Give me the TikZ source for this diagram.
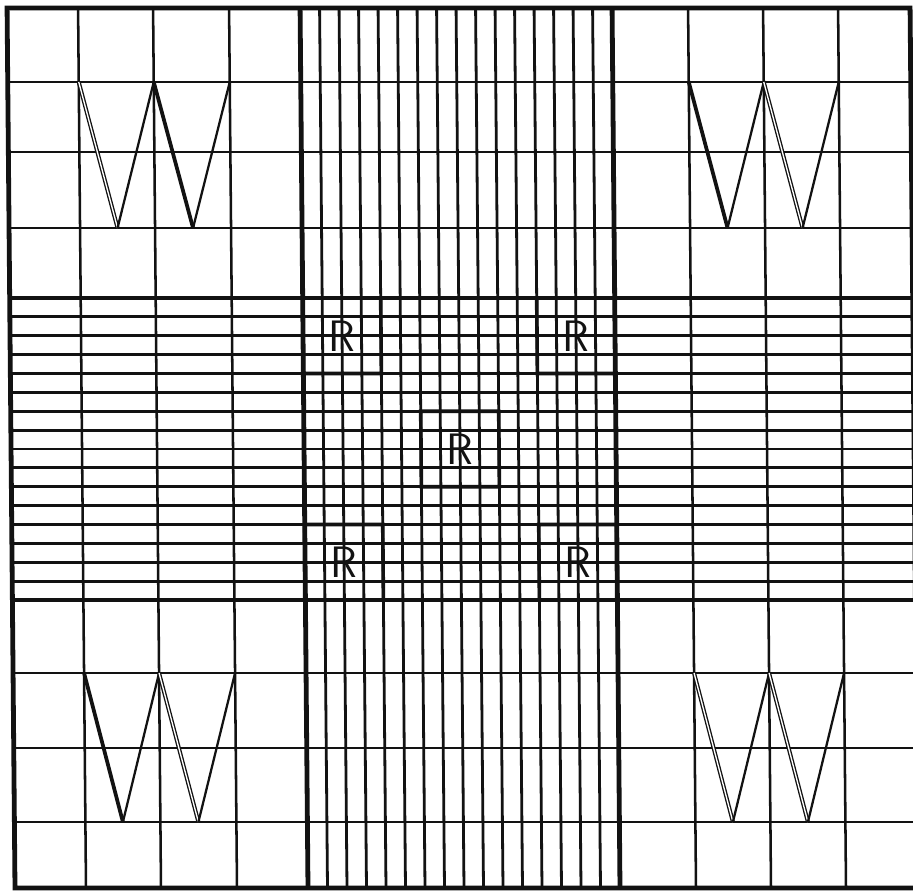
\documentclass[tikz,border=0pt]{standalone}
\usepackage{xcolor}
\definecolor{ink}{RGB}{18,18,18}
\definecolor{paper}{RGB}{255,255,255}
\usepackage{tikz}
\usetikzlibrary{positioning}
\tikzset{
  %% ruling of the counting grid
  coarse/.style={draw=ink, line width=1.9pt},
  fine/.style={draw=ink, line width=2.1pt},
  heavy/.style={draw=ink, line width=3.6pt},
  rbox/.style={draw=ink, line width=2.7pt},
  rlabel/.style={font=\sffamily\fontsize{33}{33}\selectfont, text=ink, inner sep=0pt},
  %% strokes of the W marks
  wthin/.style={draw=ink, line width=1.7pt},
  wthick/.style={draw=ink, line width=2.8pt},
  wdbl/.style={draw=ink, double=paper, double distance=1pt, line width=1pt},
}

\begin{document}
\begin{tikzpicture}[x=0.75pt, y=-0.75pt]
\fill[paper] (0,0) rectangle (913,892);
\useasboundingbox (0,0) rectangle (913,892);
\begin{scope}[xslant=-0.009]
%% coarse lines of the corner squares
\foreach \x in {78,153,229,688,763,838} \draw[coarse] (\x,8) -- (\x,888);
\foreach \y in {82,152,228,673,748,822} \draw[coarse] (7,\y) -- (910,\y);
%% fine lines of the middle bands
\foreach \k in {1,...,15} {
  \draw[fine] ({300+19.5*\k},8) -- ({300+19.5*\k},888);
  \draw[fine] (7,{298+18.875*\k}) -- (910,{298+18.875*\k});
}
%% main divisions and frame
\foreach \x in {300,612} \draw[heavy] (\x,8) -- (\x,888);
\foreach \y in {298,600} \draw[heavy] (7,\y) -- (910,\y);
\draw[heavy] (7,8) rectangle (910,888);
%% R squares
\foreach \name/\x/\y in {rtl/300/298, rtr/534/298, rmid/417/411.25, rbl/300/524.5, rbr/534/524.5} {
  \draw[rbox] (\x,\y) rectangle ++(78,75.5);
  \node[rlabel] (\name) at ({\x+39},{\y+38}) {R};
}
%% W marks
\foreach \ca/\cb/\cc/\ra/\rb/\sa/\sb in {78/153/229/82/228/wdbl/wthick,
    688/763/838/82/228/wthick/wdbl, 78/153/229/673/822/wthick/wdbl,
    688/763/838/673/822/wdbl/wdbl} {
  \draw[\sa] (\ca,\ra) -- ({(\ca+\cb)/2},\rb);
  \draw[wthin] ({(\ca+\cb)/2},\rb) -- (\cb,\ra);
  \draw[\sb] (\cb,\ra) -- ({(\cb+\cc)/2},\rb);
  \draw[wthin] ({(\cb+\cc)/2},\rb) -- (\cc,\ra);
}
\end{scope}
\end{tikzpicture}
\end{document}
